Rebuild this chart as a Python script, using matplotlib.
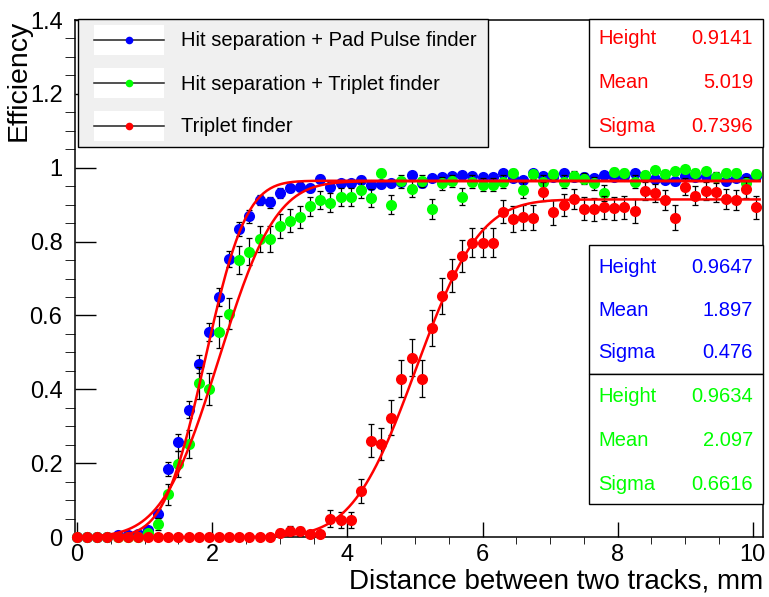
import numpy as np
import matplotlib
matplotlib.use("Agg")
import matplotlib.pyplot as plt
from matplotlib.patches import Rectangle
from matplotlib.lines import Line2D
from math import erf

plt.rcParams["font.family"] = ["Liberation Sans", "DejaVu Sans"]

# bins of the distance histogram
bin_width = 0.15
n_bins = 68
distance = np.round(np.arange(n_bins) * bin_width, 2)

# Hit separation + Pad Pulse finder
eff_pad = [0, 0, 0, 0, 0.005, 0.005, 0.008, 0.02, 0.063, 0.184,
           0.256, 0.345, 0.468, 0.555, 0.65, 0.752, 0.833, 0.868, 0.913, 0.907,
           0.931, 0.945, 0.949, 0.946, 0.97, 0.949, 0.958, 0.958, 0.968, 0.954,
           0.955, 0.958, 0.962, 0.981, 0.958, 0.972, 0.976, 0.977, 0.981, 0.977,
           0.976, 0.976, 0.986, 0.972, 0.967, 0.986, 0.977, 0.975, 0.986, 0.976,
           0.976, 0.972, 0.981, 0.975, 0.977, 0.986, 0.977, 0.969, 0.967, 0.963,
           0.977, 0.976, 0.977, 0.976, 0.963, 0.972, 0.972, 0.977]
err_pad = [0, 0, 0, 0, 0.004, 0.004, 0.005, 0.007, 0.012, 0.019,
           0.022, 0.024, 0.025, 0.025, 0.024, 0.022, 0.019, 0.017, 0.014, 0.015,
           0.013, 0.011, 0.011, 0.011, 0.009, 0.011, 0.010, 0.010, 0.009, 0.011,
           0.010, 0.010, 0.010, 0.007, 0.010, 0.008, 0.008, 0.008, 0.007, 0.008,
           0.008, 0.008, 0.006, 0.008, 0.009, 0.006, 0.008, 0.008, 0.006, 0.008,
           0.008, 0.008, 0.007, 0.008, 0.008, 0.006, 0.008, 0.009, 0.009, 0.009,
           0.008, 0.008, 0.008, 0.008, 0.009, 0.008, 0.008, 0.008]

# Hit separation + Triplet finder
eff_hs = [0, 0, 0, 0, 0, 0, 0, 0.012, 0.035, 0.116,
          0.198, 0.252, 0.418, 0.401, 0.555, 0.605, 0.75, 0.773, 0.807, 0.808,
          0.842, 0.857, 0.866, 0.895, 0.913, 0.905, 0.921, 0.921, 0.94, 0.918,
          0.987, 0.90, 0.963, 0.942, 0.965, 0.888, 0.958, 0.965, 0.922, 0.962,
          0.954, 0.954, 0.962, 0.986, 0.94, 0.982, 0.962, 0.982, 0.962, 0.977,
          0.97, 0.958, 0.931, 0.988, 0.986, 0.962, 0.98, 0.995, 0.983, 0.99,
          0.997, 0.985, 0.992, 0.976, 0.987, 0.987, 0.958, 0.983]
err_hs = [0, 0, 0, 0, 0, 0, 0, 0.010, 0.016, 0.028,
          0.035, 0.038, 0.043, 0.043, 0.044, 0.043, 0.038, 0.037, 0.035, 0.035,
          0.032, 0.031, 0.030, 0.027, 0.025, 0.026, 0.024, 0.024, 0.021, 0.024,
          0.010, 0.026, 0.017, 0.021, 0.016, 0.028, 0.018, 0.016, 0.024, 0.017,
          0.018, 0.018, 0.017, 0.010, 0.021, 0.012, 0.017, 0.012, 0.017, 0.013,
          0.015, 0.018, 0.022, 0.010, 0.010, 0.017, 0.012, 0.006, 0.011, 0.009,
          0.005, 0.011, 0.008, 0.013, 0.010, 0.010, 0.018, 0.011]

# Triplet finder
eff_trip = [0, 0, 0, 0, 0, 0, 0, 0, 0, 0,
            0, 0, 0, 0, 0, 0, 0, 0, 0, 0,
            0.012, 0.016, 0.015, 0.008, 0.008, 0.05, 0.046, 0.046, 0.125, 0.261,
            0.252, 0.323, 0.429, 0.486, 0.429, 0.566, 0.653, 0.709, 0.761, 0.797,
            0.797, 0.797, 0.881, 0.861, 0.866, 0.865, 0.935, 0.879, 0.90, 0.915,
            0.889, 0.887, 0.893, 0.89, 0.893, 0.883, 0.936, 0.931, 0.913, 0.865,
            0.949, 0.924, 0.936, 0.933, 0.915, 0.913, 0.942, 0.893]
err_trip = [0, 0, 0, 0, 0, 0, 0, 0, 0, 0,
            0, 0, 0, 0, 0, 0, 0, 0, 0, 0,
            0.011, 0.013, 0.012, 0.009, 0.009, 0.022, 0.021, 0.021, 0.033, 0.044,
            0.043, 0.047, 0.049, 0.050, 0.049, 0.050, 0.048, 0.045, 0.043, 0.040,
            0.040, 0.040, 0.032, 0.035, 0.034, 0.034, 0.025, 0.033, 0.030, 0.028,
            0.031, 0.032, 0.031, 0.031, 0.031, 0.032, 0.024, 0.025, 0.028, 0.034,
            0.022, 0.026, 0.024, 0.025, 0.028, 0.028, 0.023, 0.031]

# fit parameters (Height, Mean, Sigma)
par_names = ["Height", "Mean", "Sigma"]
fit_pad = [0.9647, 1.897, 0.476]
fit_hs = [0.9634, 2.097, 0.6616]
fit_trip = [0.9141, 5.019, 0.7396]
fit_pad_txt = ["0.9647", "1.897", "0.476"]
fit_hs_txt = ["0.9634", "2.097", "0.6616"]
fit_trip_txt = ["0.9141", "5.019", "0.7396"]

labels = ["Hit separation + Pad Pulse finder",
          "Hit separation + Triplet finder",
          "Triplet finder"]
colors = ["#0000ff", "#00ff00", "#ff0000"]


def step_fit(x, p):
    h, m, s = p
    return np.array([h * 0.5 * (1 + erf((v - m) / (np.sqrt(2) * s))) for v in x])


W, H = 769, 597
fig = plt.figure(figsize=(W / 100, H / 100), dpi=100)
ax = fig.add_axes([75 / W, 1 - 537 / H, 688 / W, 517 / H])


def fx(px):
    return px / W


def fy(py):
    return 1 - py / H


series = [(eff_pad, err_pad), (eff_hs, err_hs), (eff_trip, err_trip)]
z = 2
for (eff, err), c in zip(series, colors):
    ax.errorbar(distance, eff, yerr=err, fmt="none", ecolor="black",
                elinewidth=0.9, capsize=2.5, capthick=0.9, zorder=z)
    ax.plot(distance, eff, "o", color=c, markersize=8, markeredgewidth=0,
            zorder=z + 1, clip_on=False)
    z += 2

xf = np.linspace(0, 10.1, 400)
for p in [fit_pad, fit_hs, fit_trip]:
    ax.plot(xf, step_fit(xf, p), color="red", lw=1.8, zorder=10)

ax.set_xlim(-0.03, 10.15)
ax.set_ylim(0, 1.4)
ax.set_xticks([0, 2, 4, 6, 8, 10])
ax.set_xticks(np.arange(0, 10.01, 0.5), minor=True)
ax.set_yticks([0, 0.2, 0.4, 0.6, 0.8, 1.0, 1.2, 1.4])
ax.set_yticks(np.arange(0, 1.401, 0.05), minor=True)
ax.set_yticklabels(["0", "0.2", "0.4", "0.6", "0.8", "1", "1.2", "1.4"])
ax.tick_params(direction="in", top=False, right=False, labelsize=17, width=1)
ax.tick_params(axis="x", which="major", length=11, pad=5)
ax.tick_params(axis="x", which="minor", length=5)
ax.tick_params(axis="y", which="major", length=15, pad=9)
ax.tick_params(axis="y", which="minor", length=7)
for sp in ax.spines.values():
    sp.set_linewidth(1.1)

ax.set_xlabel("Distance between two tracks, mm", fontsize=20, ha="right")
ax.xaxis.set_label_coords(1.0, -0.06)
ax.set_ylabel("Efficiency", fontsize=20.5, ha="right")
ax.yaxis.set_label_coords(-0.063, 1.0)

# legend box
fig.patches.append(Rectangle((fx(78), fy(147)), (488 - 78) / W, (147 - 19) / H,
                             transform=fig.transFigure, facecolor="#f0f0f0",
                             edgecolor="black", lw=1))
for lab, c, yc in zip(labels, colors, [40, 83, 126]):
    fig.patches.append(Rectangle((fx(94), fy(yc + 15)), 70 / W, 30 / H,
                                 transform=fig.transFigure, facecolor="white",
                                 edgecolor="none"))
    fig.lines.append(Line2D([fx(94), fx(164)], [fy(yc), fy(yc)],
                            transform=fig.transFigure, color="#222222", lw=1.1))
    fig.lines.append(Line2D([fx(129)], [fy(yc)], transform=fig.transFigure,
                            marker="o", color=c, markersize=5.5, markeredgewidth=0))
    fig.text(fx(181), fy(yc + 1), lab, fontsize=14.5, va="center", ha="left")

# fit parameter boxes
boxes = [(fit_trip_txt, "#ff0000", 19, 147, [39, 82, 126]),
         (fit_pad_txt, "#0000ff", 245, 374, [267, 310, 353]),
         (fit_hs_txt, "#00ff00", 374, 504, [397, 441, 484])]
for vals, c, top, bot, rows in boxes:
    fig.patches.append(Rectangle((fx(589), fy(bot)), (763 - 589) / W, (bot - top) / H,
                                 transform=fig.transFigure, facecolor="white",
                                 edgecolor="black", lw=1))
    for name, val, yc in zip(par_names, vals, rows):
        fig.text(fx(598), fy(yc), name, color=c, fontsize=14.5, va="center", ha="left")
        fig.text(fx(753), fy(yc), val, color=c, fontsize=14.5, va="center", ha="right")

fig.savefig("out.png", dpi=100)
